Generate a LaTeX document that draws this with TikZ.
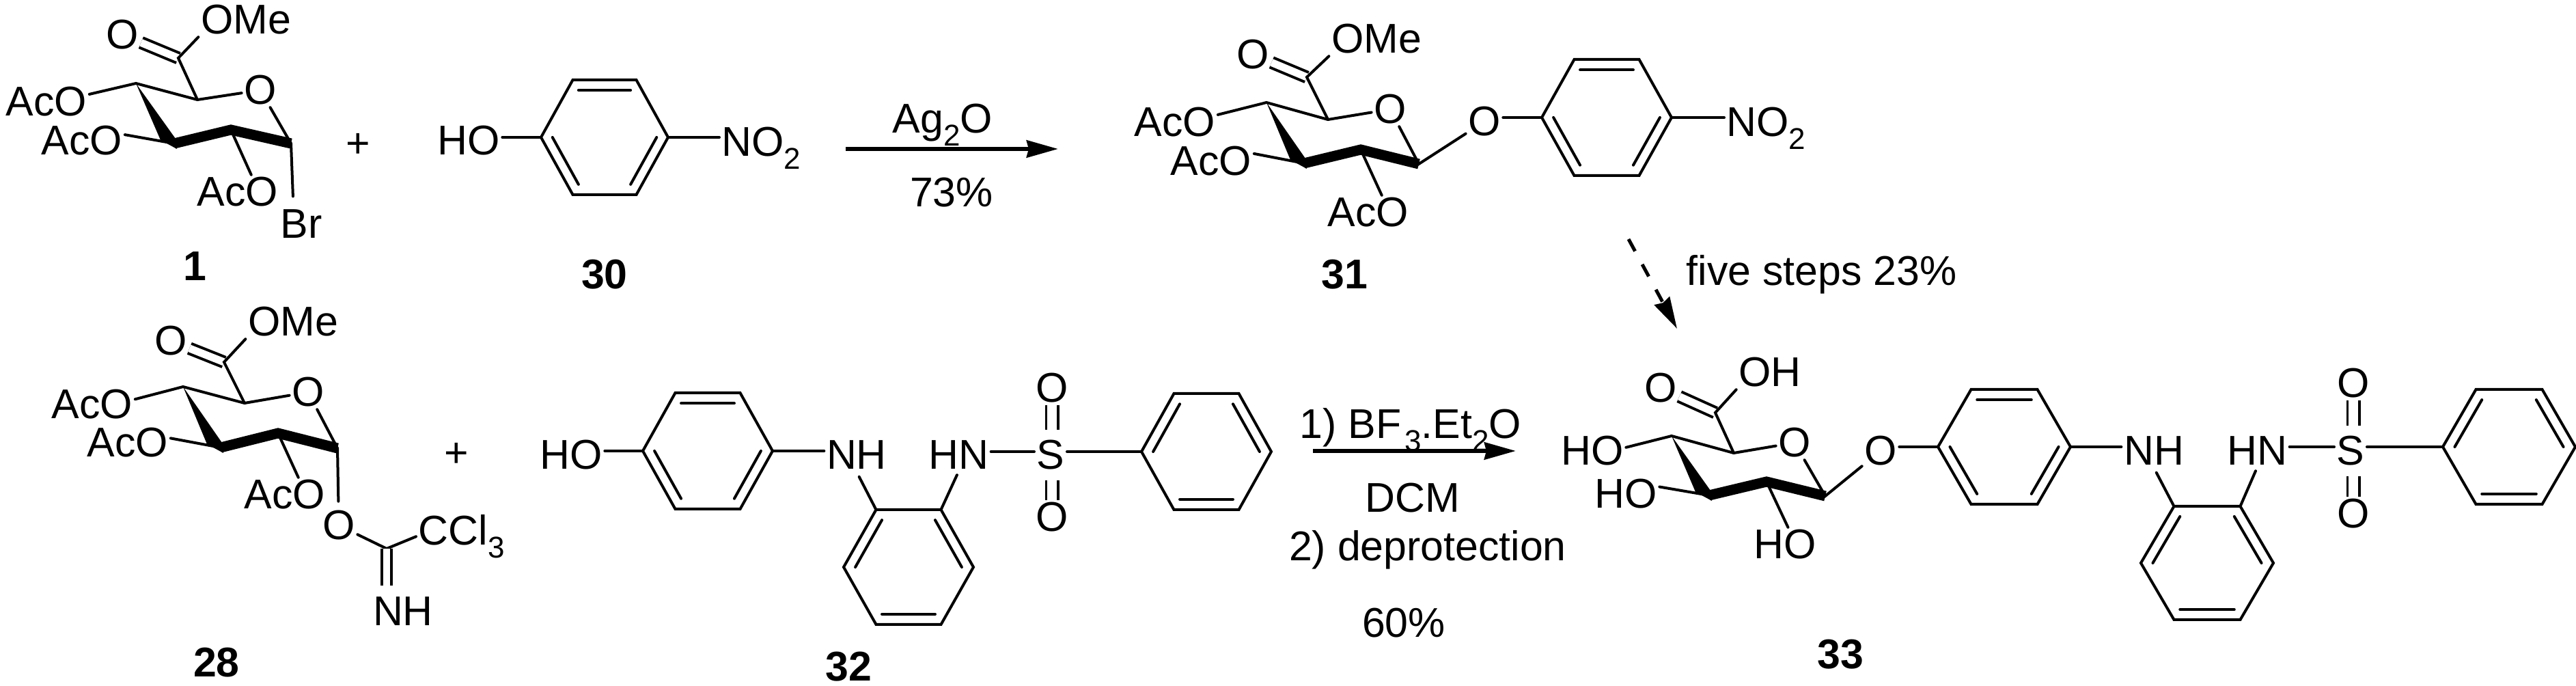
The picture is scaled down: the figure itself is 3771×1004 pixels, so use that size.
\documentclass[tikz,border=0pt]{standalone}
\usepackage{fontspec}
\setmainfont{Liberation Sans}
\usetikzlibrary{arrows.meta, calc}
\tikzset{
  atom/.style={font=\fontsize{17.3}{20}\selectfont, inner sep=0.03cm},
  cpd/.style={font=\fontsize{17.3}{20}\selectfont\bfseries, inner sep=0.03cm},
  bond/.style={line width=0.04cm, line cap=round, line join=miter},
  boldbond/.style={line width=0.15cm, line join=miter},
  dblbond/.style={line width=0.04cm, double, double distance=0.11cm},
  sulfbond/.style={line width=0.035cm, double, double distance=0.14cm, shorten <=0.12cm},
  rxnarrow/.style={line width=0.06cm, -{Stealth[length=0.46cm, width=0.25cm, inset=0.03cm]}}
}
\newcommand{\subnum}[1]{\raisebox{-0.3em}{\fontsize{12.5}{14}\selectfont #1}}
\newcommand{\arene}[6]{%
  \coordinate (#1c) at (#2,#3);
  \coordinate (#1l) at (#2-#4,#3);
  \coordinate (#1r) at (#2+#4,#3);
  \coordinate (#1tl) at (#2-#4/2,#3-#5);
  \coordinate (#1tr) at (#2+#4/2,#3-#5);
  \coordinate (#1bl) at (#2-#4/2,#3+#5);
  \coordinate (#1br) at (#2+#4/2,#3+#5);
  \draw[bond] (#1l) -- (#1tl) -- (#1tr) -- (#1r) -- (#1br) -- (#1bl) -- cycle;
  \foreach \from/\to in {#6} \draw[bond] ($(#1c)!0.82!(#1\from)$) -- ($(#1c)!0.82!(#1\to)$);
}
\newcommand{\pyranring}[1]{%
  \fill (#1a) -- ([shift={(-20,-5)}]#1b) -- ([shift={(4,8)}]#1b) -- ([shift={(2,-7)}]#1b) -- cycle;
  \draw[boldbond] (#1b) -- (#1c) -- (#1d);
}
\begin{document}
\begin{tikzpicture}[x=0.01cm, y=-0.01cm]
\useasboundingbox (0,0) rectangle (3771,1004);
\coordinate (s1a) at (199,122);
\coordinate (s1b) at (255,210);
\coordinate (s1c) at (338,190);
\coordinate (s1d) at (426,210);
\coordinate (s1e) at (289,146);
\coordinate (s1f) at (261,85);
\node[atom] (s1o) at (381,132) {O};
\node[atom] (s1co) at (179,51) {O};
\node[atom] (s1ome) at (360,29) {OMe};
\node[atom] (s1ac1) at (68,149) {AcO};
\node[atom] (s1ac2) at (120,206) {AcO};
\node[atom] (s1ac3) at (348,281) {AcO};
\node[atom] (s1br) at (441,328) {Br};
\node[cpd] (s1num) at (285,390) {1};
\draw[dblbond] (s1f) -- (s1co);
\pyranring{s1}
\draw[bond] (s1ac1.10) -- (s1a) -- (s1e) -- (s1o);
\draw[bond] (s1o) -- (s1d);
\draw[bond] (s1e) -- (s1f) -- (s1ome.south west);
\draw[bond] (s1ac2.8) -- (s1b);
\draw[bond] (s1c) -- (s1ac3.52);
\draw[bond, shorten >=0.16cm] (s1d) -- (s1br.115);
\node[atom] (plus1) at (524,213) {+};

\arene{r30}{885}{201}{93}{84}{tl/tr,l/bl,r/br}
\node[atom] (s30ho) at (686,206) {HO};
\node[atom, anchor=base west] (s30no) at (1053,229) {NO\subnum{2}};
\node[cpd] (s30num) at (885,402) {30};
\draw[bond] (r30l) -- (r30l -| s30ho.east);
\draw[bond] (r30r) -- (r30r -| s30no.west);

\coordinate (arr1s) at (1238,218);
\coordinate (arr1e) at (1549,218);
\draw[rxnarrow] (arr1s) -- (arr1e);
\node[atom, anchor=base] (ag) at (1380,195) {Ag\subnum{2}O};
\node[atom] (y73) at (1393,282) {73\%};

\coordinate (s31a) at (1854,150);
\coordinate (s31b) at (1909,239);
\coordinate (s31c) at (1992,219);
\coordinate (s31d) at (2077,240);
\coordinate (s31e) at (1944,175);
\coordinate (s31f) at (1913,113);
\node[atom] (s31o) at (2035,160) {O};
\node[atom] (s31co) at (1834,80) {O};
\node[atom] (s31ome) at (2015,57) {OMe};
\node[atom] (s31ac1) at (1720,179) {AcO};
\node[atom] (s31ac2) at (1773,236) {AcO};
\node[atom] (s31ac3) at (2003,311) {AcO};
\node[atom] (s31og) at (2173,178) {O};
\node[cpd] (s31num) at (1968,402) {31};
\draw[dblbond] (s31f) -- (s31co);
\pyranring{s31}
\draw[bond] (s31ac1.10) -- (s31a) -- (s31e) -- (s31o);
\draw[bond] (s31o) -- (s31d) -- (s31og);
\draw[bond] (s31e) -- (s31f) -- (s31ome.south west);
\draw[bond] (s31ac2.10) -- (s31b);
\draw[bond] (s31c) -- (s31ac3.52);
\arene{r31}{2352}{172}{95}{85}{tl/tr,l/bl,r/br}
\node[atom, anchor=base west] (s31no) at (2524,200) {NO\subnum{2}};
\draw[bond] (r31l) -- (r31l -| s31og.east);
\draw[bond] (r31r) -- (r31r -| s31no.west);

\coordinate (arr3s) at (2384,350);
\coordinate (arr3e) at (2455,481);
\draw[line width=0.05cm, dash pattern=on 0.2cm off 0.22cm, -{Stealth[length=0.46cm, width=0.25cm, inset=0.03cm]}] (arr3s) -- (arr3e);
\node[atom, anchor=base west] (five) at (2465,418) {five steps 23\%};

\coordinate (s28a) at (268,566);
\coordinate (s28b) at (323,655);
\coordinate (s28c) at (407,634);
\coordinate (s28d) at (494,656);
\coordinate (s28e) at (358,590);
\coordinate (s28f) at (328,530);
\coordinate (s28ci) at (566,803);
\node[atom] (s28o) at (451,574) {O};
\node[atom] (s28co) at (250,499) {O};
\node[atom] (s28ome) at (429,471) {OMe};
\node[atom] (s28ac1) at (135,592) {AcO};
\node[atom] (s28ac2) at (187,648) {AcO};
\node[atom] (s28ac3) at (417,724) {AcO};
\node[atom] (s28og) at (496,769) {O};
\node[atom, anchor=base west] (s28ccl) at (609,798) {CCl\subnum{3}};
\node[atom] (s28nh) at (590,895) {NH};
\node[cpd] (s28num) at (317,970) {28};
\draw[dblbond] (s28f) -- (s28co);
\pyranring{s28}
\draw[bond] (s28ac1.7) -- (s28a) -- (s28e) -- (s28o);
\draw[bond] (s28o) -- (s28d);
\draw[bond] (s28e) -- (s28f) -- (s28ome.south west);
\draw[bond] (s28ac2.6) -- (s28b);
\draw[bond] (s28c) -- (s28ac3.52);
\draw[bond, shorten >=0.1cm] (s28d) -- (s28og);
\draw[bond] (s28og) -- (s28ci) -- (s28ccl.west);
\draw[dblbond, double distance=0.1cm, shorten >=0.13cm] (s28ci) -- (s28ci |- s28nh.north);
\node[atom] (plus2) at (668,666) {+};

\arene{r32a}{1036}{660}{95}{85}{tl/tr,l/bl,r/br}
\arene{r32b}{1330}{830}{95}{84}{l/tl,r/tr,bl/br}
\arene{r32c}{1766}{661}{95}{85}{l/tl,r/tr,bl/br}
\node[atom] (s32ho) at (836,666) {HO};
\node[atom] (s32nh) at (1254,666) {NH};
\node[atom] (s32hn) at (1403,666) {HN};
\node[atom] (s32s) at (1538,666) {S};
\node[atom] (s32so1) at (1540,568) {O};
\node[atom] (s32so2) at (1540,757) {O};
\node[cpd] (s32num) at (1242,976) {32};
\draw[bond] (r32al) -- (r32al -| s32ho.east);
\draw[bond] (r32ar) -- (r32ar -| s32nh.west);
\draw[bond, shorten <=0.08cm] (s32nh.south) -- (r32btl);
\draw[bond, shorten <=0.05cm] (s32hn.south) -- (r32btr);
\draw[bond] (s32hn.east |- r32cl) -- (s32s.west |- r32cl);
\draw[bond] (r32cl) -- (r32cl -| s32s.east);
\draw[sulfbond] (s32s.north -| s32so1) -- (s32so1);
\draw[sulfbond] (s32s.south -| s32so2) -- (s32so2);

\coordinate (arr2s) at (1922,660);
\coordinate (arr2e) at (2219,660);
\draw[rxnarrow] (arr2s) -- (arr2e);
\node[atom, anchor=base west] (bf) at (1899,642) {1) BF\kern0.08em\subnum{3}.Et\subnum{2}O};
\node[atom] (dcm) at (2068,729) {DCM};
\node[atom, anchor=base] (dep) at (2090,821) {2) deprotection};
\node[atom] (y60) at (2055,912) {60\%};

\coordinate (s33a) at (2447,638);
\coordinate (s33b) at (2502,725);
\coordinate (s33c) at (2586,705);
\coordinate (s33d) at (2672,726);
\coordinate (s33e) at (2538,663);
\coordinate (s33f) at (2511,604);
\node[atom] (s33o) at (2627,648) {O};
\node[atom] (s33co) at (2431,568) {O};
\node[atom] (s33oh) at (2591,545) {OH};
\node[atom] (s33ho1) at (2331,660) {HO};
\node[atom] (s33ho2) at (2380,723) {HO};
\node[atom] (s33ho3) at (2613,797) {HO};
\node[atom] (s33og) at (2753,660) {O};
\node[cpd] (s33num) at (2694,958) {33};
\draw[dblbond] (s33f) -- (s33co);
\pyranring{s33}
\draw[bond] (s33ho1.6) -- (s33a) -- (s33e) -- (s33o);
\draw[bond] (s33o) -- (s33d) -- (s33og);
\draw[bond] (s33e) -- (s33f) -- (s33oh.south west);
\draw[bond] (s33ho2.12) -- (s33b);
\draw[bond] (s33c) -- (s33ho3.80);

\arene{r33a}{2934}{654}{97}{84}{tl/tr,l/bl,r/br}
\arene{r33b}{3231}{824}{97}{83}{l/tl,r/tr,bl/br}
\arene{r33c}{3673}{654}{97}{84}{l/tl,r/tr,bl/br}
\node[atom] (s33nh) at (3153,660) {NH};
\node[atom] (s33hn) at (3304,660) {HN};
\node[atom] (s33s) at (3441,660) {S};
\node[atom] (s33so1) at (3445,561) {O};
\node[atom] (s33so2) at (3445,752) {O};
\draw[bond] (r33al) -- (r33al -| s33og.east);
\draw[bond] (r33ar) -- (r33ar -| s33nh.west);
\draw[bond, shorten <=0.08cm] (s33nh.south) -- (r33btl);
\draw[bond, shorten <=0.05cm] (s33hn.south) -- (r33btr);
\draw[bond] (s33hn.east |- r33cl) -- (s33s.west |- r33cl);
\draw[bond] (r33cl) -- (r33cl -| s33s.east);
\draw[sulfbond] (s33s.north -| s33so1) -- (s33so1);
\draw[sulfbond] (s33s.south -| s33so2) -- (s33so2);
\end{tikzpicture}
\end{document}
